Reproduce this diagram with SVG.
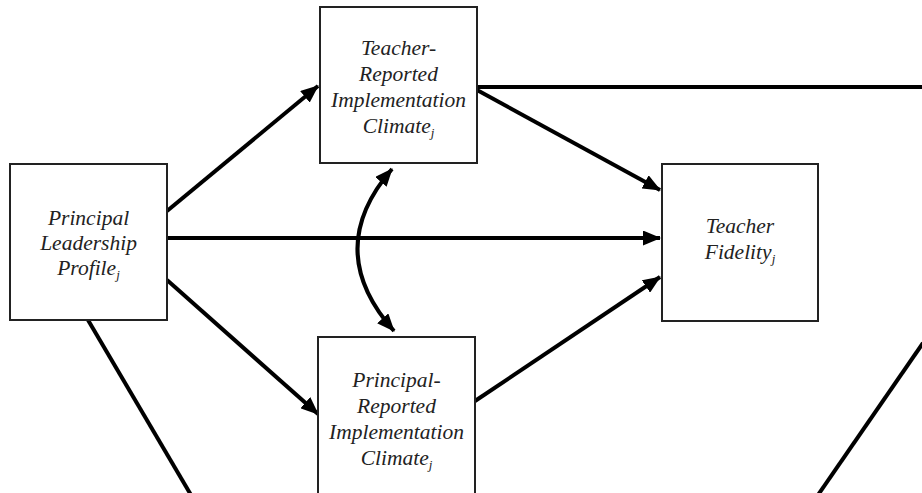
<svg xmlns="http://www.w3.org/2000/svg" width="922" height="493" viewBox="0 0 922 493">
<style>
.box{fill:#fff;stroke:#222;stroke-width:2}
.lbl{font-family:"Liberation Serif","Times New Roman",serif;font-style:italic;font-size:21.5px;fill:#222;text-anchor:middle}
.sub{font-size:13px}
.ln{fill:none;stroke:#000;stroke-width:4}
</style>
<defs>
<marker id="ah" markerUnits="userSpaceOnUse" markerWidth="19" markerHeight="15" refX="17" refY="7.5" orient="auto-start-reverse">
<path d="M0,0 L18,7.5 L0,15 Z" fill="#000"/>
</marker>
</defs>
<rect width="922" height="493" fill="#fff"/>
<g id="connectors">
<line class="ln" x1="167" y1="211" x2="318" y2="86" marker-end="url(#ah)"/>
<line class="ln" x1="167" y1="238" x2="660" y2="238" marker-end="url(#ah)"/>
<line class="ln" x1="167" y1="280" x2="318" y2="414" marker-end="url(#ah)"/>
<line class="ln" x1="477" y1="90" x2="660" y2="190" marker-end="url(#ah)"/>
<line class="ln" x1="475" y1="401" x2="660" y2="277" marker-end="url(#ah)"/>
<line class="ln" x1="477" y1="87" x2="922" y2="87"/>
<line class="ln" x1="88" y1="320" x2="191" y2="495"/>
<line class="ln" x1="923" y1="343" x2="818" y2="495"/>
<path class="ln" d="M392,169 Q322,250 394,331" marker-start="url(#ah)" marker-end="url(#ah)"/>
</g>
<g id="principal-leadership">
<rect class="box" x="10" y="164" width="157" height="156"/>
<text class="lbl" x="88.5" y="225">Principal</text>
<text class="lbl" x="88.5" y="250">Leadership</text>
<text class="lbl" x="88.5" y="275">Profile<tspan class="sub" dy="4">j</tspan></text>
</g>
<g id="teacher-reported">
<rect class="box" x="320" y="7" width="157" height="156"/>
<text class="lbl" x="398.5" y="55">Teacher-</text>
<text class="lbl" x="398.5" y="81">Reported</text>
<text class="lbl" x="398.5" y="107">Implementation</text>
<text class="lbl" x="398.5" y="133">Climate<tspan class="sub" dy="4">j</tspan></text>
</g>
<g id="principal-reported">
<rect class="box" x="318" y="337" width="157" height="160"/>
<text class="lbl" x="396.5" y="387">Principal-</text>
<text class="lbl" x="396.5" y="413">Reported</text>
<text class="lbl" x="396.5" y="439">Implementation</text>
<text class="lbl" x="396.5" y="465">Climate<tspan class="sub" dy="4">j</tspan></text>
</g>
<g id="teacher-fidelity">
<rect class="box" x="662" y="164" width="156" height="157"/>
<text class="lbl" x="740" y="233">Teacher</text>
<text class="lbl" x="740" y="259">Fidelity<tspan class="sub" dy="4">j</tspan></text>
</g>
</svg>
